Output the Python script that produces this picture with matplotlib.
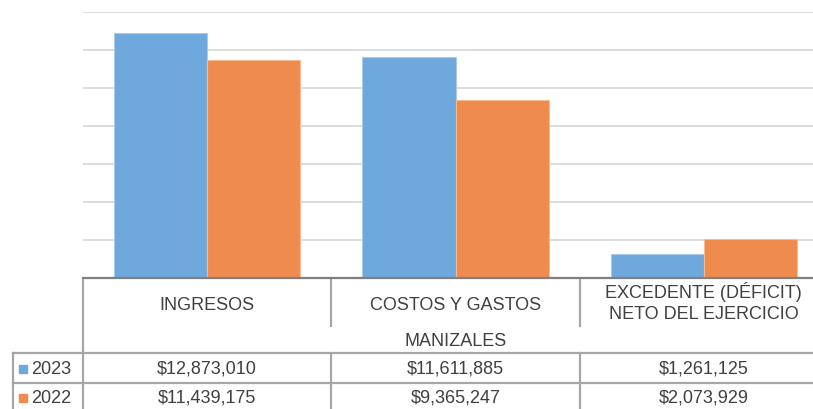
import matplotlib.pyplot as plt
from matplotlib.lines import Line2D

plt.rcParams['font.family'] = ['Liberation Sans', 'DejaVu Sans']

categorias = ['INGRESOS', 'COSTOS Y GASTOS', 'EXCEDENTE (DÉFICIT)\nNETO DEL EJERCICIO']
anios = ['2023', '2022']
valores_2023 = [12873010, 11611885, 1261125]
valores_2022 = [11439175, 9365247, 2073929]
grupo = 'MANIZALES'

azul = '#6fa8dc'
naranja = '#ef8c4d'
texto = '#404040'
linea_tabla = '#a6a6a6'

W, H = 813, 410
fig = plt.figure(figsize=(W / 100, H / 100), dpi=100)

# chart area (extends a bit past the right edge like the source sheet)
ax = fig.add_axes([83 / W, (H - 279) / H, (828 - 83) / W, (279 - 12.5) / H])
x = list(range(len(categorias)))
ancho = 0.375
ax.bar([i - ancho / 2 for i in x], valores_2023, ancho, color=azul,
       edgecolor='#a9cbeb', linewidth=0.8, zorder=3)
ax.bar([i + ancho / 2 for i in x], valores_2022, ancho, color=naranja,
       edgecolor='#f6bb93', linewidth=0.8, zorder=3)
ax.set_xlim(-0.5, len(categorias) - 0.5)
ax.set_ylim(0, 14000000)
ax.set_yticks(range(0, 14000001, 2000000))
ax.yaxis.grid(True, color='#d9d9d9', linewidth=1.3, zorder=0)
ax.set_xticks([])
ax.tick_params(left=False, labelleft=False)
for s in ['top', 'right', 'left']:
    ax.spines[s].set_visible(False)
ax.spines['bottom'].set_color('#7f7f7f')
ax.spines['bottom'].set_linewidth(1.6)
ax.spines['bottom'].set_zorder(4)

# data table underneath, in pixel coordinates
tab = fig.add_axes([0, 0, 1, 1], zorder=-1)
tab.set_xlim(0, W)
tab.set_ylim(H, 0)
tab.axis('off')

def px(v):
    return ax.transData.transform((v, 0))[0] * 100 / fig.dpi

bordes = [px(i - 0.5) for i in range(len(categorias) + 1)]
centros = [px(i) for i in x]

def linea(x0, x1, y0, y1):
    tab.add_line(Line2D([x0, x1], [y0, y1], color=linea_tabla, linewidth=1.6))

linea(bordes[0], bordes[0], 279, H)
for b in bordes[1:-1]:
    linea(b, b, 279, 327)
    linea(b, b, 354, H)
linea(13, bordes[-1], 354, 354)
linea(13, bordes[-1], 384, 384)
linea(13, 13, 354, H)

for c, nombre in zip(centros, categorias):
    y = 302.5 if '\n' in nombre else 305.5
    tab.text(c, y, nombre, ha='center', va='center', fontsize=13,
             color=texto, linespacing=1.35)
tab.text(px(1), 342, grupo, ha='center', va='center', fontsize=13, color=texto)

filas = [(anios[0], valores_2023, azul, 369.5), (anios[1], valores_2022, naranja, 398.5)]
for anio, vals, col, y in filas:
    tab.add_patch(plt.Rectangle((19, y - 4), 8, 8, color=col))
    tab.text(31, y, anio, ha='left', va='center', fontsize=13, color=texto)
    for c, v in zip(centros, vals):
        tab.text(c, y, '${:,}'.format(v), ha='center', va='center',
                 fontsize=13, color=texto)

fig.savefig('out.png', dpi=100)
